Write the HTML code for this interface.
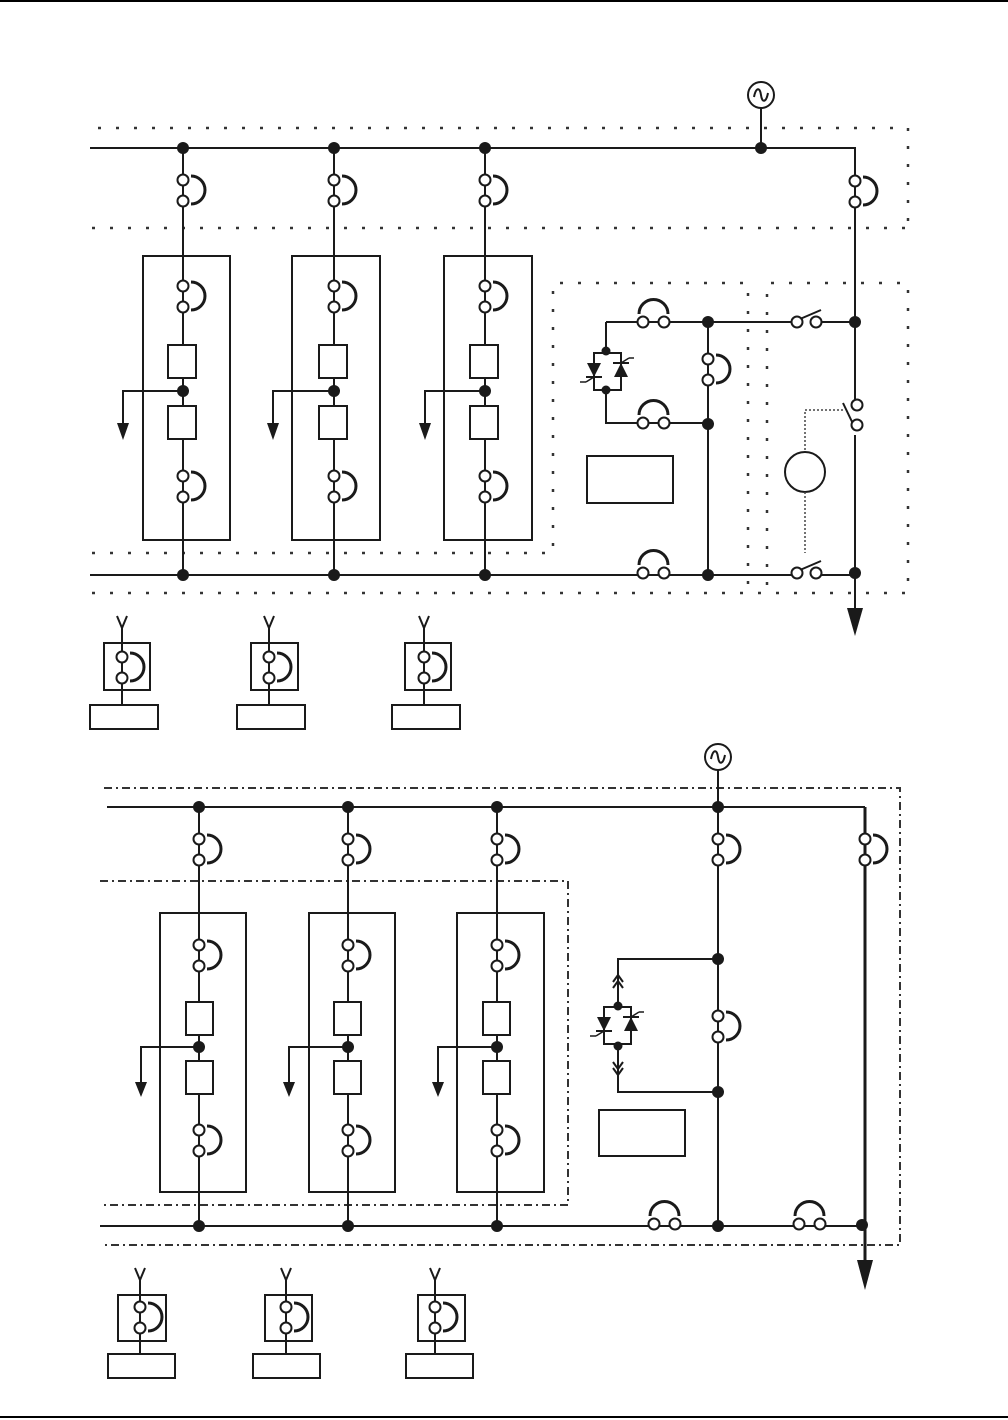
<!DOCTYPE html>
<html><head><meta charset="utf-8"><style>html,body{margin:0;padding:0;background:#fff}svg{display:block}</style></head><body>
<svg width="1008" height="1420" viewBox="0 0 1008 1420" xmlns="http://www.w3.org/2000/svg">
<defs>
<g id="fv"><path d="M8,-4 A13,13 0 0 1 8,24" fill="none" stroke="#1a1a1a" stroke-width="3"/><circle cx="0" cy="0" r="5.5" fill="#fff" stroke="#1a1a1a" stroke-width="2"/><circle cx="0" cy="21" r="5.5" fill="#fff" stroke="#1a1a1a" stroke-width="2"/></g>
<g id="fh"><path d="M-4,-8 A13,13 0 0 1 25,-8" fill="none" stroke="#1a1a1a" stroke-width="3"/><circle cx="0" cy="0" r="5.5" fill="#fff" stroke="#1a1a1a" stroke-width="2"/><circle cx="21" cy="0" r="5.5" fill="#fff" stroke="#1a1a1a" stroke-width="2"/></g>
<g id="sw"><rect x="5" y="-4" width="9" height="8" fill="#fff"/><line x1="3" y1="-3" x2="24" y2="-12" stroke="#1a1a1a" stroke-width="2"/><circle cx="0" cy="0" r="5.5" fill="#fff" stroke="#1a1a1a" stroke-width="2"/><circle cx="19" cy="0" r="5.5" fill="#fff" stroke="#1a1a1a" stroke-width="2"/></g>
<g id="dot"><circle r="6" fill="#1a1a1a"/></g>
<g id="gen"><circle r="13" fill="#fff" stroke="#1a1a1a" stroke-width="2"/><path d="M-7,2 C-5,-8 -1,-8 0,0 C1,8 5,8 7,-2" fill="none" stroke="#1a1a1a" stroke-width="2"/></g>
<g id="thy">
<rect x="0" y="0" width="27" height="37" fill="none" stroke="#1a1a1a" stroke-width="2"/>
<polygon points="-7,10 7,10 0,24" fill="#1a1a1a"/><line x1="-8" y1="24" x2="8" y2="24" stroke="#1a1a1a" stroke-width="2"/><line x1="0" y1="24" x2="-8" y2="29" stroke="#1a1a1a" stroke-width="1.5"/><line x1="-8" y1="29" x2="-14" y2="29" stroke="#1a1a1a" stroke-width="1.5"/>
<polygon points="20,24 34,24 27,10" fill="#1a1a1a"/><line x1="19" y1="10" x2="35" y2="10" stroke="#1a1a1a" stroke-width="2"/><line x1="27" y1="10" x2="35" y2="5" stroke="#1a1a1a" stroke-width="1.5"/><line x1="35" y1="5" x2="40" y2="5" stroke="#1a1a1a" stroke-width="1.5"/>
</g>
</defs>
<line x1="0" y1="1" x2="1008" y2="1" stroke="#000" stroke-width="2"/>
<line x1="0" y1="1417" x2="1008" y2="1417" stroke="#000" stroke-width="2"/>

<!-- TOP DIAGRAM -->
<g fill="none" stroke="#333" stroke-width="2.5" stroke-dasharray="3,15">
<path d="M98,128 H908 V228 M92,228 H908"/>
<path d="M92,553 H553 V283 H748 V593 M92,593 H908 V283 H767 V593"/>
</g>
<g fill="none" stroke="#1a1a1a" stroke-width="2">
<path d="M90,148 H855 V608"/>
<path d="M761,108 V148"/>
<path d="M90,575 H855"/>
<path d="M183,148 V575 M334,148 V575 M485,148 V575"/>
<rect x="143" y="256" width="87" height="284"/><rect x="292" y="256" width="88" height="284"/><rect x="444" y="256" width="88" height="284"/>
<path d="M183,391 H123 V425 M334,391 H273 V425 M485,391 H425 V425"/>
<path d="M606,322 H708 H855 M606,322 V353 M606,390 V423 H708 M708,322 V575"/>
<rect x="587" y="456" width="86" height="47"/>
<circle cx="805" cy="472" r="20"/>
</g>
<g fill="#fff" stroke="#1a1a1a" stroke-width="2">
<rect x="168" y="345" width="28" height="33"/><rect x="168" y="406" width="28" height="33"/>
<rect x="319" y="345" width="28" height="33"/><rect x="319" y="406" width="28" height="33"/>
<rect x="470" y="345" width="28" height="33"/><rect x="470" y="406" width="28" height="33"/>
</g>
<g fill="#1a1a1a"><polygon points="117,423 129,423 123,440"/><polygon points="267,423 279,423 273,440"/><polygon points="419,423 431,423 425,440"/>
<polygon points="847,608 863,608 855,636"/></g>
<rect x="850" y="395" width="12" height="40" fill="#fff"/>
<line x1="855" y1="388" x2="855" y2="400" stroke="#1a1a1a" stroke-width="2"/>
<line x1="843" y1="403" x2="855" y2="428" stroke="#1a1a1a" stroke-width="2"/>
<circle cx="857" cy="405" r="5.5" fill="#fff" stroke="#1a1a1a" stroke-width="2"/>
<circle cx="857" cy="425" r="5.5" fill="#fff" stroke="#1a1a1a" stroke-width="2"/>
<path d="M843,410 H805 V452 M805,492 V553" fill="none" stroke="#444" stroke-width="1.5" stroke-dasharray="2,2"/>
<use href="#sw" x="797" y="322"/>
<use href="#sw" x="797" y="573"/>
<use href="#gen" x="761" y="95"/>
<use href="#fv" x="183" y="180"/><use href="#fv" x="334" y="180"/><use href="#fv" x="485" y="180"/><use href="#fv" x="855" y="181"/>
<use href="#fv" x="183" y="286"/><use href="#fv" x="334" y="286"/><use href="#fv" x="485" y="286"/>
<use href="#fv" x="183" y="476"/><use href="#fv" x="334" y="476"/><use href="#fv" x="485" y="476"/>
<use href="#fv" x="708" y="359"/>
<use href="#fh" x="643" y="322"/><use href="#fh" x="643" y="423"/><use href="#fh" x="643" y="573"/>
<use href="#thy" x="594" y="353"/>
<circle cx="606" cy="351" r="4.5" fill="#1a1a1a"/><circle cx="606" cy="390" r="4.5" fill="#1a1a1a"/>
<use href="#dot" x="183" y="148"/><use href="#dot" x="334" y="148"/><use href="#dot" x="485" y="148"/><use href="#dot" x="761" y="148"/>
<use href="#dot" x="183" y="391"/><use href="#dot" x="334" y="391"/><use href="#dot" x="485" y="391"/>
<use href="#dot" x="183" y="575"/><use href="#dot" x="334" y="575"/><use href="#dot" x="485" y="575"/><use href="#dot" x="708" y="575"/><use href="#dot" x="855" y="573"/>
<use href="#dot" x="708" y="322"/><use href="#dot" x="708" y="424"/><use href="#dot" x="855" y="322"/>
<g fill="none" stroke="#1a1a1a" stroke-width="2">
<path d="M117,616 L122,628 L127,616 M122,628 V705"/><rect x="104" y="643" width="46" height="47"/><rect x="90" y="705" width="68" height="24"/>
<path d="M264,616 L269,628 L274,616 M269,628 V705"/><rect x="251" y="643" width="47" height="47"/><rect x="237" y="705" width="68" height="24"/>
<path d="M419,616 L424,628 L429,616 M424,628 V705"/><rect x="405" y="643" width="46" height="47"/><rect x="392" y="705" width="68" height="24"/>
</g>
<use href="#fv" x="122" y="657"/><use href="#fv" x="269" y="657"/><use href="#fv" x="424" y="657"/>

<!-- BOTTOM DIAGRAM -->
<g fill="none" stroke="#333" stroke-width="2" stroke-dasharray="8,4,2,4">
<path d="M104,788 H900 V1245 H104"/>
<path d="M100,881 H568 V1205 H100"/>
</g>
<g fill="none" stroke="#1a1a1a" stroke-width="2">
<path d="M107,807 H718 M718,770 V1226"/>
<path d="M718,807 H865"/>
<path d="M100,1226 H865"/>
<path d="M199,807 V1226 M348,807 V1226 M497,807 V1226"/>
<rect x="160" y="913" width="86" height="279"/><rect x="309" y="913" width="86" height="279"/><rect x="457" y="913" width="87" height="279"/>
<path d="M199,1047 H141 V1085 M348,1047 H289 V1085 M497,1047 H438 V1085"/>
<path d="M718,959 H618 V1005 M618,1046 V1092 H718"/>
<rect x="599" y="1110" width="86" height="46"/>
<path d="M613,982 L618,975 L623,982 M613,988 L618,981 L623,988 M613,1062 L618,1069 L623,1062 M613,1068 L618,1075 L623,1068"/>
</g>
<path d="M865,807 V1262" stroke="#1a1a1a" stroke-width="3" fill="none"/>
<g fill="#fff" stroke="#1a1a1a" stroke-width="2">
<rect x="186" y="1002" width="27" height="33"/><rect x="186" y="1061" width="27" height="33"/>
<rect x="334" y="1002" width="27" height="33"/><rect x="334" y="1061" width="27" height="33"/>
<rect x="483" y="1002" width="27" height="33"/><rect x="483" y="1061" width="27" height="33"/>
</g>
<g fill="#1a1a1a"><polygon points="135,1082 147,1082 141,1097"/><polygon points="283,1082 295,1082 289,1097"/><polygon points="432,1082 444,1082 438,1097"/>
<polygon points="857,1260 873,1260 865,1290"/></g>
<use href="#gen" x="718" y="757"/>
<use href="#fv" x="199" y="839"/><use href="#fv" x="348" y="839"/><use href="#fv" x="497" y="839"/><use href="#fv" x="718" y="839"/><use href="#fv" x="865" y="839"/>
<use href="#fv" x="199" y="945"/><use href="#fv" x="348" y="945"/><use href="#fv" x="497" y="945"/>
<use href="#fv" x="199" y="1130"/><use href="#fv" x="348" y="1130"/><use href="#fv" x="497" y="1130"/>
<use href="#fv" x="718" y="1016"/>
<use href="#fh" x="654" y="1224"/><use href="#fh" x="799" y="1224"/>
<use href="#thy" x="604" y="1007"/>
<circle cx="618" cy="1006" r="4.5" fill="#1a1a1a"/><circle cx="618" cy="1046" r="4.5" fill="#1a1a1a"/>
<use href="#dot" x="199" y="807"/><use href="#dot" x="348" y="807"/><use href="#dot" x="497" y="807"/><use href="#dot" x="718" y="807"/>
<use href="#dot" x="199" y="1047"/><use href="#dot" x="348" y="1047"/><use href="#dot" x="497" y="1047"/>
<use href="#dot" x="199" y="1226"/><use href="#dot" x="348" y="1226"/><use href="#dot" x="497" y="1226"/><use href="#dot" x="718" y="1226"/><use href="#dot" x="862" y="1225"/>
<use href="#dot" x="718" y="959"/><use href="#dot" x="718" y="1092"/>
<g fill="none" stroke="#1a1a1a" stroke-width="2">
<path d="M135,1268 L140,1280 L145,1268 M140,1280 V1354"/><rect x="118" y="1295" width="48" height="46"/><rect x="108" y="1354" width="67" height="24"/>
<path d="M281,1268 L286,1280 L291,1268 M286,1280 V1354"/><rect x="265" y="1295" width="47" height="46"/><rect x="253" y="1354" width="67" height="24"/>
<path d="M430,1268 L435,1280 L440,1268 M435,1280 V1354"/><rect x="418" y="1295" width="47" height="46"/><rect x="406" y="1354" width="67" height="24"/>
</g>
<use href="#fv" x="140" y="1307"/><use href="#fv" x="286" y="1307"/><use href="#fv" x="435" y="1307"/>
</svg>
</body></html>
